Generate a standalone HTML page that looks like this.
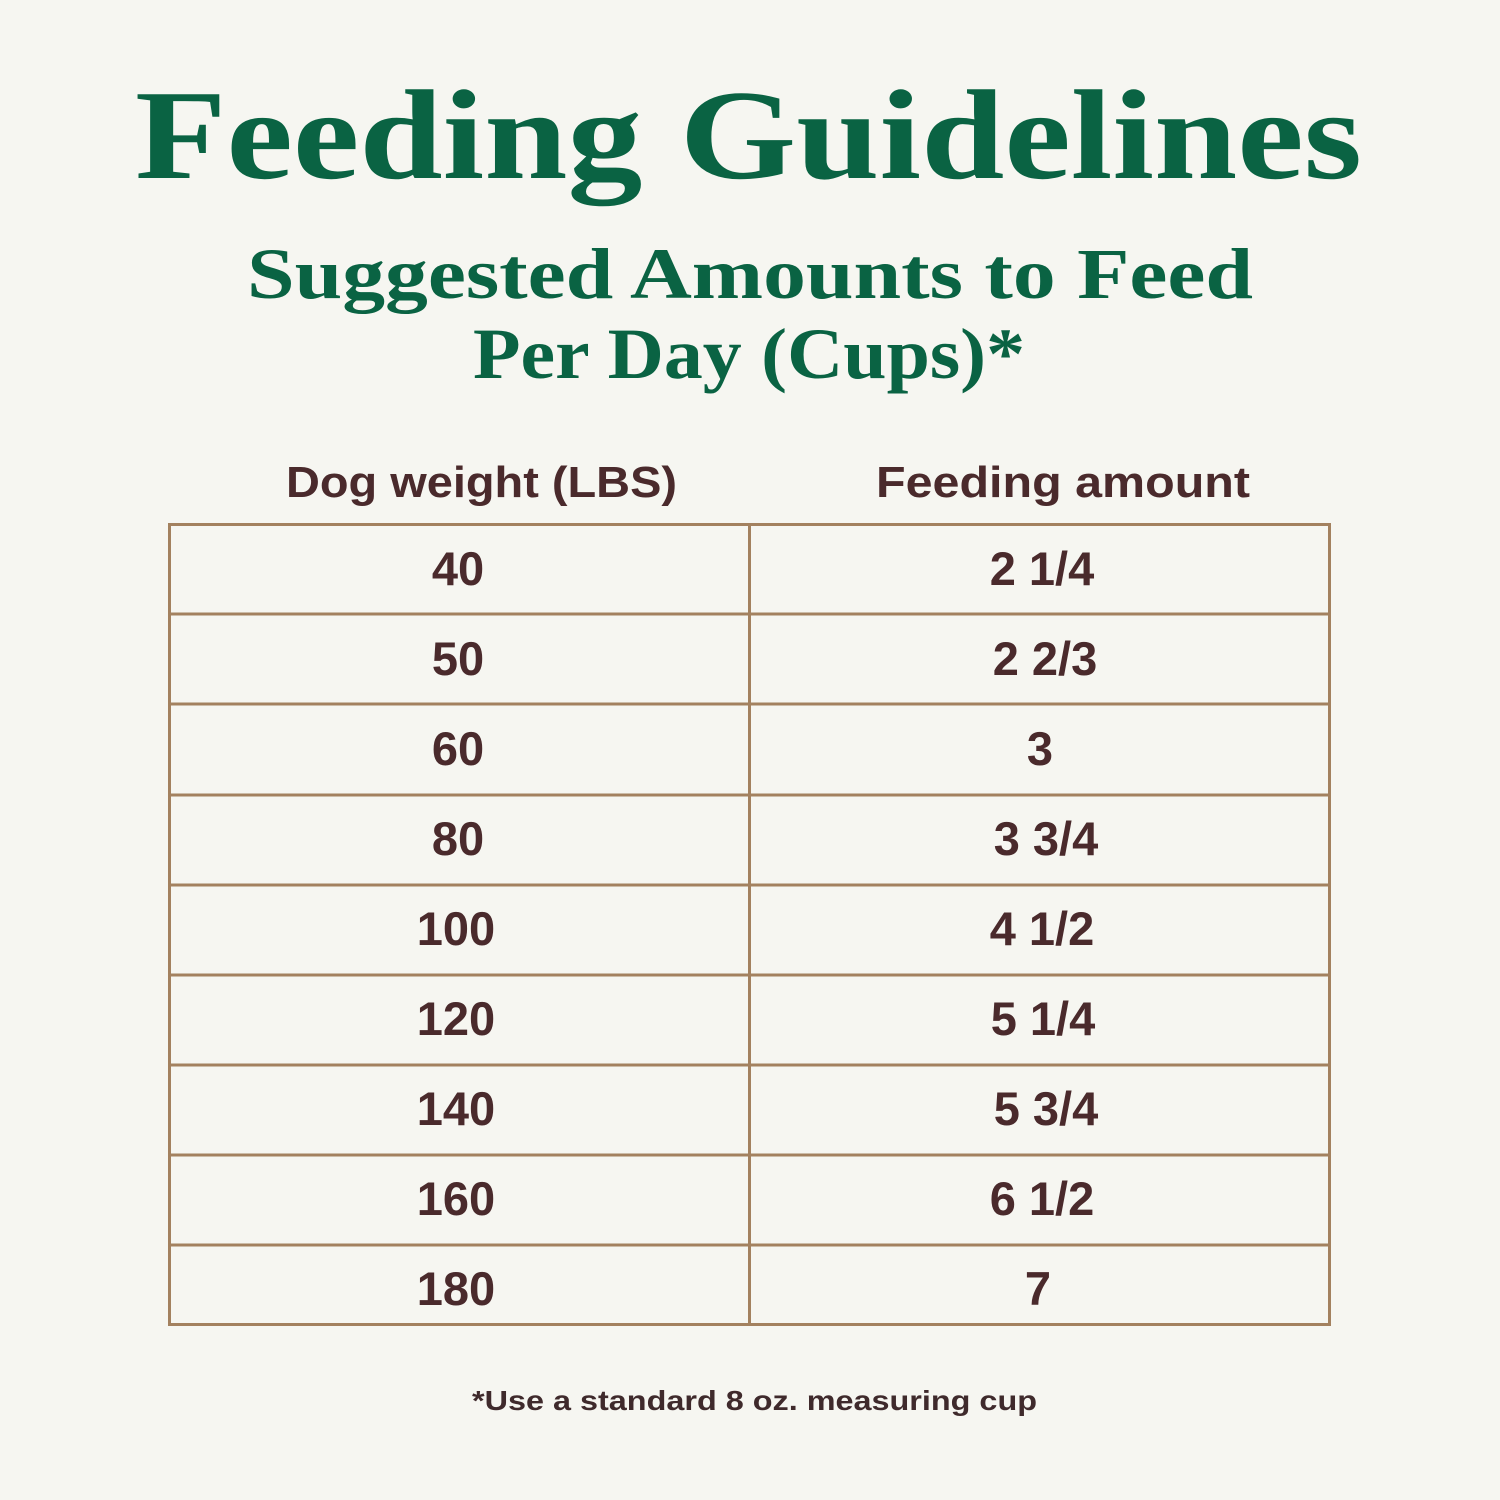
<!DOCTYPE html>
<html><head><meta charset="utf-8"><style>
html,body{margin:0;padding:0;background:#f6f6f1;}
svg{display:block}
</style></head><body>
<svg width="1500" height="1500" viewBox="0 0 1500 1500" xmlns="http://www.w3.org/2000/svg">
<rect width="1500" height="1500" fill="#f6f6f1"/>
<g font-family="Liberation Serif, serif" font-weight="bold" fill="#0a6343">
<text x="135" y="178" font-size="128" textLength="1227" lengthAdjust="spacingAndGlyphs">Feeding Guidelines</text>
<text x="247" y="298" font-size="72" textLength="1006" lengthAdjust="spacingAndGlyphs">Suggested Amounts to Feed</text>
<text x="473" y="378" font-size="72" textLength="552" lengthAdjust="spacingAndGlyphs">Per Day (Cups)*</text>
</g>
<g font-family="Liberation Sans, sans-serif" font-weight="bold" fill="#4a2a2c">
<text x="286" y="497" font-size="44" textLength="391" lengthAdjust="spacingAndGlyphs">Dog weight (LBS)</text>
<text x="876" y="497" font-size="44" textLength="374" lengthAdjust="spacingAndGlyphs">Feeding amount</text>
</g>
<g fill="none" stroke="#a3815f" stroke-width="3">
<rect x="169.5" y="524.5" width="1160" height="800"/>
<line x1="749.5" y1="524" x2="749.5" y2="1325"/>
<line x1="169" y1="614" x2="1330" y2="614"/>
<line x1="169" y1="704" x2="1330" y2="704"/>
<line x1="169" y1="795" x2="1330" y2="795"/>
<line x1="169" y1="885" x2="1330" y2="885"/>
<line x1="169" y1="975" x2="1330" y2="975"/>
<line x1="169" y1="1065" x2="1330" y2="1065"/>
<line x1="169" y1="1155" x2="1330" y2="1155"/>
<line x1="169" y1="1245" x2="1330" y2="1245"/>
</g>
<g font-family="Liberation Sans, sans-serif" font-weight="600" fill="#4a2a2c" font-size="47" text-anchor="middle">
<text x="458" y="585">40</text><text x="1042" y="585">2 1/4</text>
<text x="458" y="675">50</text><text x="1045" y="675">2 2/3</text>
<text x="458" y="765">60</text><text x="1040" y="765">3</text>
<text x="458" y="855">80</text><text x="1046" y="855">3 3/4</text>
<text x="456" y="945">100</text><text x="1042" y="945">4 1/2</text>
<text x="456" y="1035">120</text><text x="1043" y="1035">5 1/4</text>
<text x="456" y="1125">140</text><text x="1046" y="1125">5 3/4</text>
<text x="456" y="1215">160</text><text x="1042" y="1215">6 1/2</text>
<text x="456" y="1305">180</text><text x="1038" y="1305">7</text>
</g>
<text x="472" y="1410" font-family="Liberation Sans, sans-serif" font-weight="bold" fill="#3f2a2c" font-size="28" textLength="565" lengthAdjust="spacingAndGlyphs">*Use a standard 8 oz. measuring cup</text>
</svg>
</body></html>
